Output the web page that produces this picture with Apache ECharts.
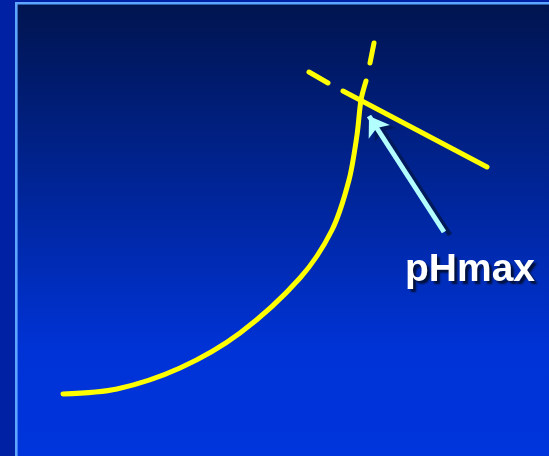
<!DOCTYPE html>
<html>
<head>
<meta charset="utf-8">
<script src="https://cdn.jsdelivr.net/npm/echarts@6/dist/echarts.min.js"></script>
<style>
html, body { margin: 0; padding: 0; }
#chart { width: 549px; height: 456px; }
</style>
</head>
<body>
<div id="chart"></div>
<script>
// coordinates are in the picture's own units (x right, y down)
const curvePoints = [
  [63, 394], [117, 389], [180, 368], [240, 333], [300, 278],
  [332, 230], [349, 180], [357, 135], [361, 100], [366, 81]
]
const curveDash = [[370, 63], [374, 43]]
const tangentDash = [[309, 72], [328, 83]]
const tangentLine = [[343, 91], [487, 167]]
const arrowFrom = [444, 232]
const arrowTo = [369, 116]
const labelText = 'pHmax'

const chart = echarts.init(document.getElementById('chart'))

const yellow = '#ffff00'
const shadowOff = [6, 3]

function seg(data, name) {
  return {
    name: name,
    type: 'line',
    data: data,
    smooth: name === 'curve' ? 0.3 : false,
    showSymbol: false,
    symbol: 'none',
    silent: true,
    lineStyle: { color: yellow, width: 5, cap: 'round', join: 'round' },
    z: 3
  }
}

function arrowSeries(name, from, to, color, z) {
  return {
    name: name,
    type: 'lines',
    coordinateSystem: 'cartesian2d',
    symbol: ['none', 'arrow'],
    symbolSize: [15, 19],
    silent: true,
    lineStyle: { color: color, width: 5, opacity: 1 },
    data: [{ coords: [from, to] }],
    z: z
  }
}

chart.setOption({
  animation: false,
  backgroundColor: '#0021a3',
  graphic: [{
    type: 'rect',
    z: -10,
    shape: { x: 16.3, y: 3.3, width: 560, height: 480 },
    style: {
      fill: new echarts.graphic.LinearGradient(0, 0, 0, 1, [
        { offset: 0, color: '#00144e' },
        { offset: 0.72, color: '#0033d6' },
        { offset: 1, color: '#0035de' }
      ]),
      stroke: '#5ea6ff',
      lineWidth: 2.6
    }
  }],
  title: {
    text: labelText,
    left: 400,
    top: 246,
    textStyle: {
      color: '#ffffff',
      fontSize: 39,
      fontWeight: 'bold',
      fontFamily: 'Liberation Sans',
      textShadowColor: '#00103c',
      textShadowOffsetX: 3,
      textShadowOffsetY: 3,
      textShadowBlur: 2
    }
  },
  grid: { left: 0, right: 0, top: 0, bottom: 0 },
  xAxis: { type: 'value', min: 0, max: 549, show: false },
  yAxis: { type: 'value', min: 0, max: 456, inverse: true, show: false },
  series: [
    seg(curvePoints, 'curve'),
    seg(curveDash, 'curveDash'),
    seg(tangentDash, 'tangentDash'),
    seg(tangentLine, 'tangent'),
    arrowSeries('arrowShadow',
      [arrowFrom[0] + shadowOff[0], arrowFrom[1] + shadowOff[1]],
      [arrowTo[0] + shadowOff[0], arrowTo[1] + shadowOff[1]],
      '#001a5c', 4),
    arrowSeries('arrow', arrowFrom, arrowTo, '#b3ffff', 5)
  ]
})
</script>
</body>
</html>
